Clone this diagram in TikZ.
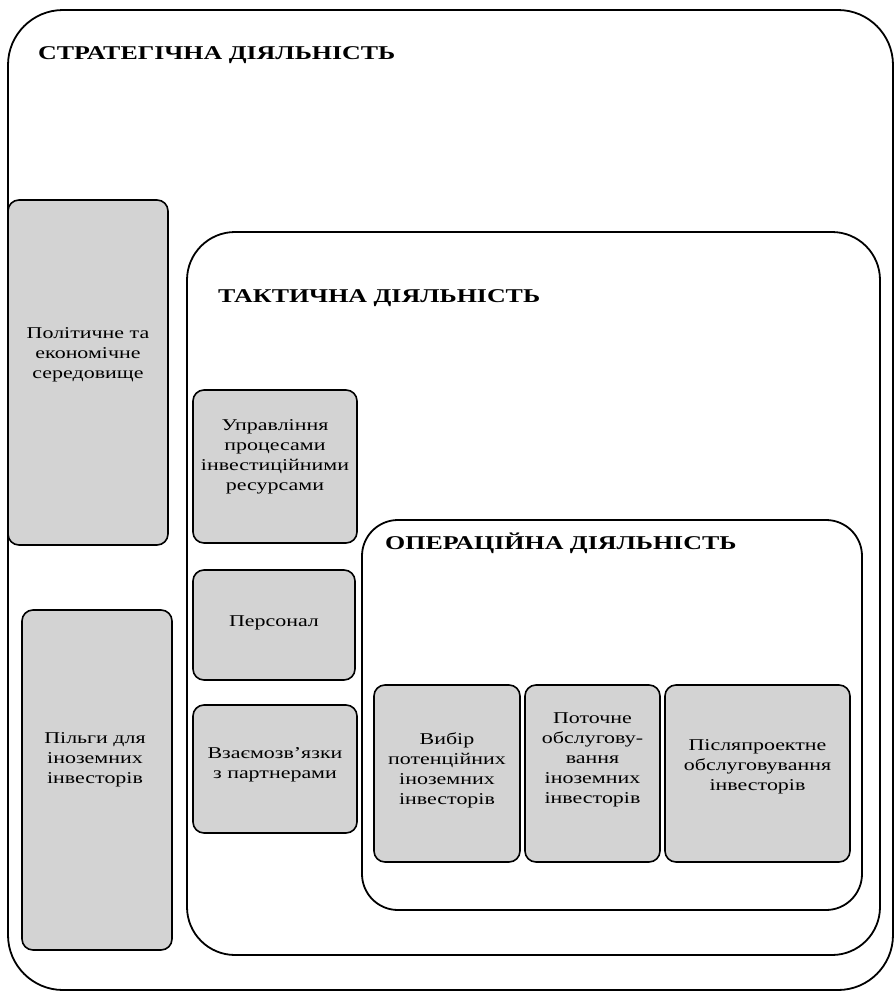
\documentclass[tikz,border=0pt]{standalone}
\usepackage{fontspec}
\setmainfont{Liberation Serif}[FakeStretch=1.33]
\definecolor{boxgray}{RGB}{211,211,211}
\begin{document}
\begin{tikzpicture}[x=1pt,y=-1pt,
  frame/.style={draw=black, line width=1.8pt, rounded corners=#1, inner sep=0pt},
  graybox/.style={draw=black, fill=boxgray, line width=1.6pt, rounded corners=11pt, inner sep=0pt},
  boxtext/.style={align=center, font=\fontsize{16.5}{20}\selectfont, inner sep=0pt},
  heading/.style={anchor=west, font=\bfseries\fontsize{19.5}{22}\selectfont, inner sep=0pt}]
\useasboundingbox (0,0) rectangle (895,999);
% containers
\node[frame=55pt, minimum width=885pt, minimum height=980pt] (strat) at (450.5,500) {};
\node[heading] (stratlbl) at (38,55) {СТРАТЕГІЧНА ДІЯЛЬНІСТЬ};
\node[frame=48pt, minimum width=693pt, minimum height=723pt] (tact) at (533.5,593.5) {};
\node[heading] (tactlbl) at (218,298) {ТАКТИЧНА ДІЯЛЬНІСТЬ};
\node[frame=36pt, minimum width=500pt, minimum height=390pt] (oper) at (612,715) {};
\node[heading] (operlbl) at (385,543) {ОПЕРАЦІЙНА ДІЯЛЬНІСТЬ};
% strategic boxes
\node[graybox, minimum width=160pt, minimum height=345pt] (s1) at (88,372.5) {};
\node[boxtext] (s1t) at (88,355) {Політичне та\\економічне\\середовище};
\node[graybox, minimum width=150pt, minimum height=340pt] (s2) at (97,780) {};
\node[boxtext] (s2t) at (95,760) {Пільги для\\іноземних\\інвесторів};
% tactical boxes
\node[graybox, minimum width=164pt, minimum height=153pt] (t1) at (275,466.5) {};
\node[boxtext] (t1t) at (275,457) {Управління\\процесами\\інвестиційними\\ресурсами};
\node[graybox, minimum width=162pt, minimum height=110pt] (t2) at (274,625) {};
\node[boxtext] (t2t) at (274,623) {Персонал};
\node[graybox, minimum width=164pt, minimum height=128pt] (t3) at (275,769) {};
\node[boxtext] (t3t) at (275,765) {Взаємозв'язки\\з партнерами};
% operational boxes
\node[graybox, minimum width=146pt, minimum height=177pt] (o1) at (447,773.5) {};
\node[boxtext] (o1t) at (447,770) {Вибір\\потенційних\\іноземних\\інвесторів};
\node[graybox, minimum width=135pt, minimum height=177pt] (o2) at (592.5,773.5) {};
\node[boxtext] (o2t) at (592.5,760) {Поточне\\обслугову-\\вання\\іноземних\\інвесторів};
\node[graybox, minimum width=185pt, minimum height=177pt] (o3) at (757.5,773.5) {};
\node[boxtext] (o3t) at (757.5,767) {Післяпроектне\\обслуговування\\інвесторів};
\end{tikzpicture}
\end{document}
